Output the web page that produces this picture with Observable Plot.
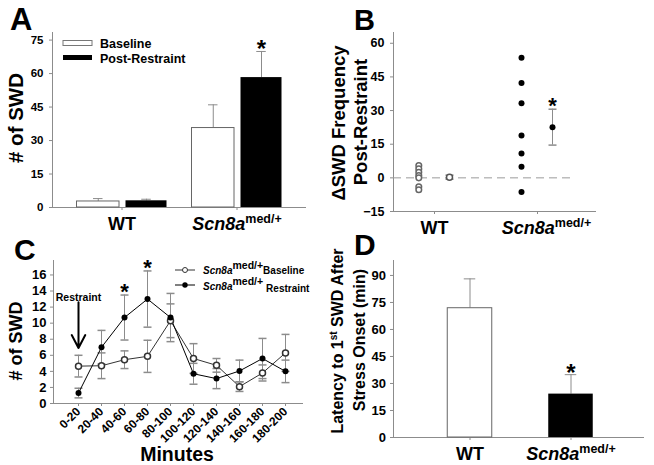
<!DOCTYPE html>
<html>
<head>
<meta charset="utf-8">
<script src="https://cdn.jsdelivr.net/npm/d3@7"></script>
<script src="https://cdn.jsdelivr.net/npm/@observablehq/plot@0.6"></script>
<style>
html,body{margin:0;padding:0;background:#fff;}
#wrap{position:relative;width:654px;height:465px;overflow:hidden;background:#fff;}
#wrap svg{position:absolute;left:0;top:0;}
</style>
</head>
<body>
<div id="wrap">
<svg id="ov" width="654" height="465" font-family="Liberation Sans, Arial, sans-serif" font-weight="bold" fill="black">
  <text x="10" y="29.5" font-size="31">A</text>
  <text x="354" y="30" font-size="29">B</text>
  <text x="14" y="260" font-size="30">C</text>
  <text x="354" y="255" font-size="30">D</text>
  <text transform="translate(22.5,118) rotate(-90)" text-anchor="middle" font-size="20.5"># of SWD</text>
  <text transform="translate(21.5,341) rotate(-90)" text-anchor="middle" font-size="18"># of SWD</text>
  <text transform="translate(344.5,123) rotate(-90)" text-anchor="middle" font-size="18.5">ΔSWD Frequency</text>
  <text transform="translate(366.5,122) rotate(-90)" text-anchor="middle" font-size="18.5">Post-Restraint</text>
  <text transform="translate(343,341) rotate(-90)" text-anchor="middle" font-size="16">Latency to 1<tspan font-size="10" dy="-6">st</tspan><tspan dy="6"> SWD After</tspan></text>
  <text transform="translate(365,340) rotate(-90)" text-anchor="middle" font-size="16">Stress Onset (min)</text>
  <text x="177" y="461" text-anchor="middle" font-size="19.5">Minutes</text>
  <rect x="63" y="40.5" width="29" height="5" fill="white" stroke="#777"></rect>
  <rect x="63" y="55" width="29" height="5" fill="black"></rect>
  <text x="100" y="47.7" font-size="12.5">Baseline</text>
  <text x="100" y="63.3" font-size="12.5">Post-Restraint</text>
  <line x1="175" x2="195" y1="270" y2="270" stroke="#333"></line>
  <circle cx="185" cy="270" r="2.5" fill="white" stroke="#333"></circle>
  <line x1="175" x2="195" y1="285" y2="285" stroke="#000"></line>
  <circle cx="185" cy="285" r="2.7" fill="black"></circle>
  <text x="203" y="274.3" font-size="10"><tspan font-style="italic">Scn8a</tspan><tspan font-size="10.5" dy="-5">med/+</tspan><tspan dy="5">Baseline</tspan></text>
  <text x="203" y="290" font-size="10"><tspan font-style="italic">Scn8a</tspan><tspan font-size="10.5" dy="-5">med/+</tspan><tspan dy="6.5" dx="3">Restraint</tspan></text>
</svg>
</div>
<script>
// ---------- Panel A: # of SWD, baseline vs post-restraint ----------
const groupsA = ["WT", "Scn8a"];
const baselineA = [2.7, 35.6];
const baselineErrA = [1.3, 10.4];
const postA = [3.0, 58.2];
const postErrA = [0.7, 11.7];
const sigA = ["Scn8a"];
const yTicksA = [0, 15, 30, 45, 60, 75];

// ---------- Panel B: delta SWD frequency ----------
const groupsB = ["WT", "Scn8a"];
const wtDeltaB = [5.5, 4.0, 2.5, 1.0, 0.0, -4.0, -5.3];
const scnDeltaB = [53.5, 42.3, 33.3, 18.9, 10.9, 4.9, -6.3];
const meanB = [0.3, 22.6];
const semB = [0.9, 8.0];
const sigB = ["Scn8a"];
const yTicksB = [-15, 0, 15, 30, 45, 60];

// ---------- Panel C: time course ----------
const binsC = ["0-20", "20-40", "40-60", "60-80", "80-100", "100-120", "120-140", "140-160", "160-180", "180-200"];
const baselineC = [4.65, 4.7, 5.45, 5.87, 10.3, 5.6, 4.75, 2.1, 3.8, 6.3];
const baselineErrC = [1.35, 1.6, 1.1, 2.0, 2.1, 1.85, 0.85, 0.6, 1.0, 2.3];
const restraintC = [1.3, 7.0, 10.7, 13.0, 10.7, 3.7, 3.1, 4.05, 5.6, 4.0];
const restraintErrC = [0.6, 2.1, 2.8, 3.5, 3.0, 1.3, 1.25, 1.35, 2.5, 1.4];
const sigC = ["40-60", "60-80"];
const yTicksC = [0, 2, 4, 6, 8, 10, 12, 14, 16];
const restraintNote = [{bin: "0-20", top: 12.6, tip: 6.9, label: 13.2, text: "Restraint"}];

// ---------- Panel D: latency ----------
const groupsD = ["WT", "Scn8a"];
const latencyD = [71.8, 24.1];
const latencyErrD = [16.3, 10.8];
const sigD = ["Scn8a"];
const yTicksD = [0, 15, 30, 45, 60, 75, 90];

const W = 654, H = 465;
const GRAY = "#8c8c8c";
const baseStyle = {background: "transparent", fontFamily: "Liberation Sans, Arial, sans-serif", fontWeight: "bold", overflow: "visible"};
const wrap = document.getElementById("wrap");

// horizontal error-bar cap drawn as a custom dot symbol (half-width = r)
const capSymbol = {draw(ctx, size) { const w = Math.sqrt(size / Math.PI); ctx.moveTo(-w, 0); ctx.lineTo(w, 0); }};

function fixScn(svg, supSize, shift) {
  d3.select(svg).selectAll("text").each(function () {
    if (this.textContent === "Scn8a") {
      const t = d3.select(this);
      t.text(null);
      const a = t.append("tspan").attr("font-style", "italic").text("Scn8a");
      if (shift) a.attr("dx", shift);
      t.append("tspan").attr("font-size", supSize + "px").attr("font-style", "normal").attr("dy", "-0.55em").text("med/+");
    }
  });
}
function astDy(fs, gap) { return -gap + (0.555 - 0.32) * fs; }

// Panel A
const rowsA = groupsA.map((g, i) => ({g, base: baselineA[i], baseErr: baselineErrA[i], post: postA[i], postErr: postErrA[i]}));
const plotA = Plot.plot({
  width: W, height: H, marginLeft: 52, marginRight: 349, marginTop: 32, marginBottom: 258,
  style: baseStyle,
  x: {type: "band", domain: groupsA, range: [63.25, 294.25], padding: 0},
  y: {domain: [0, 78.4]},
  marks: [
    Plot.frame({anchor: "left", stroke: GRAY}),
    Plot.frame({anchor: "bottom", stroke: GRAY}),
    Plot.axisY({ticks: yTicksA, tickSize: 3, tickPadding: 6, stroke: GRAY, fontSize: 11.5, fontWeight: "bold", label: null}),
    Plot.axisX({tickSize: 3, tickPadding: 7, stroke: GRAY, fontSize: 18, fontWeight: "bold", label: null}),
    Plot.ruleX(rowsA, {x: "g", y1: "base", y2: d => d.base + d.baseErr, dx: -23.75, stroke: GRAY}),
    Plot.tickY(rowsA, {x: "g", y: d => d.base + d.baseErr, dx: -23.75, insetLeft: 52.75, insetRight: 52.75, stroke: GRAY}),
    Plot.ruleX(rowsA, {x: "g", y1: "post", y2: d => d.post + d.postErr, dx: 24.5, stroke: GRAY}),
    Plot.tickY(rowsA, {x: "g", y: d => d.post + d.postErr, dx: 24.5, insetLeft: 52.75, insetRight: 52.75, stroke: GRAY}),
    Plot.barY(rowsA, {x: "g", y: "base", fill: "white", stroke: "#666", insetLeft: 12.5, insetRight: 60}),
    Plot.barY(rowsA, {x: "g", y: "post", fill: "black", insetLeft: 61.5, insetRight: 12.5}),
    Plot.text(rowsA.filter(d => sigA.includes(d.g)), {x: "g", y: d => d.post + d.postErr, text: () => "*", dx: 24.5, dy: astDy(24, 8), fontSize: 24, fontWeight: "bold"})
  ]
});
fixScn(plotA, 12.5, 0);
wrap.appendChild(plotA);

// Panel B
const rowsB = groupsB.map((g, i) => ({g, m: meanB[i], s: semB[i]}));
const plotB = Plot.plot({
  width: W, height: H, marginLeft: 393, marginRight: 59, marginTop: 32, marginBottom: 254,
  style: baseStyle,
  x: {type: "point", domain: groupsB, range: [434, 537], padding: 0},
  y: {domain: [-15, 64.8]},
  marks: [
    Plot.frame({anchor: "left", stroke: GRAY}),
    Plot.frame({anchor: "bottom", stroke: GRAY}),
    Plot.axisY({ticks: yTicksB, tickSize: 3, tickPadding: 6, stroke: GRAY, fontSize: 12.5, fontWeight: "bold", label: null}),
    Plot.axisX({tickSize: 3, tickPadding: 7, stroke: GRAY, fontSize: 18, fontWeight: "bold", label: null}),
    Plot.ruleY([0], {stroke: "#9a9a9a", strokeDasharray: "8,5", insetRight: 22}),
    Plot.dot(wtDeltaB, {x: () => "WT", y: d => d, dx: -15.7, r: 2.8, fill: "white", stroke: "#666"}),
    Plot.dot(scnDeltaB, {x: () => "Scn8a", y: d => d, dx: -16, r: 3, fill: "black"}),
    Plot.ruleX(rowsB, {x: "g", y1: d => d.m - d.s, y2: d => d.m + d.s, dx: 15, stroke: GRAY}),
    Plot.dot(rowsB, {x: "g", y: d => d.m - d.s, dx: 15, symbol: capSymbol, r: 4, fill: "none", stroke: GRAY}),
    Plot.dot(rowsB, {x: "g", y: d => d.m + d.s, dx: 15, symbol: capSymbol, r: 4, fill: "none", stroke: GRAY}),
    Plot.dot(rowsB.filter(d => d.g === "WT"), {x: "g", y: "m", dx: 15, r: 3, fill: "white", stroke: "#555"}),
    Plot.dot(rowsB.filter(d => d.g !== "WT"), {x: "g", y: "m", dx: 15, r: 3, fill: "black"}),
    Plot.text(rowsB.filter(d => sigB.includes(d.g)), {x: "g", y: d => d.m + d.s, text: () => "*", dx: 15, dy: astDy(22, 8.5), fontSize: 22, fontWeight: "bold"})
  ]
});
fixScn(plotB, 12.5, 9);
wrap.appendChild(plotB);

// Panel C
const rowsC = binsC.map((b, i) => ({b, base: baselineC[i], be: baselineErrC[i], rest: restraintC[i], re: restraintErrC[i]}));
const capOpts = {symbol: capSymbol, r: 4, fill: "none", stroke: GRAY};
const plotC = Plot.plot({
  width: W, height: H, marginLeft: 53, marginRight: 352, marginTop: 260, marginBottom: 62,
  style: baseStyle,
  x: {type: "point", domain: binsC, range: [76.7, 286.7], padding: 0},
  y: {domain: [0, 17.8]},
  marks: [
    Plot.frame({anchor: "left", stroke: GRAY}),
    Plot.frame({anchor: "bottom", stroke: GRAY}),
    Plot.axisY({ticks: yTicksC, tickSize: 3, tickPadding: 4, stroke: GRAY, fontSize: 13, fontWeight: "bold", label: null}),
    Plot.axisX({tickSize: 3, tickPadding: 3, tickRotate: -45, stroke: GRAY, fontSize: 12, fontWeight: "bold", label: null}),
    Plot.ruleX(rowsC, {x: "b", y1: d => d.base - d.be, y2: d => d.base + d.be, stroke: GRAY}),
    Plot.dot(rowsC, {x: "b", y: d => d.base - d.be, ...capOpts}),
    Plot.dot(rowsC, {x: "b", y: d => d.base + d.be, ...capOpts}),
    Plot.ruleX(rowsC, {x: "b", y1: d => d.rest - d.re, y2: d => d.rest + d.re, stroke: GRAY}),
    Plot.dot(rowsC, {x: "b", y: d => d.rest - d.re, ...capOpts}),
    Plot.dot(rowsC, {x: "b", y: d => d.rest + d.re, ...capOpts}),
    Plot.line(rowsC, {x: "b", y: "base", stroke: "#333", strokeWidth: 1}),
    Plot.line(rowsC, {x: "b", y: "rest", stroke: "#000", strokeWidth: 1}),
    Plot.dot(rowsC, {x: "b", y: "base", r: 3, fill: "white", stroke: "#333"}),
    Plot.dot(rowsC, {x: "b", y: "rest", r: 3, fill: "black"}),
    Plot.text(rowsC.filter(d => sigC.includes(d.b)), {x: "b", y: d => d.rest + d.re, text: () => "*", dy: astDy(22, 8), fontSize: 22, fontWeight: "bold"}),
    Plot.arrow(restraintNote, {x1: "bin", x2: "bin", y1: "top", y2: "tip", stroke: "black", strokeWidth: 2, headLength: 11, headAngle: 55}),
    Plot.text(restraintNote, {x: "bin", y: "label", text: "text", fontSize: 10.5, fontWeight: "bold"})
  ]
});
wrap.appendChild(plotC);

// Panel D
const rowsD = groupsD.map((g, i) => ({g, v: latencyD[i], e: latencyErrD[i]}));
const plotD = Plot.plot({
  width: W, height: H, marginLeft: 393, marginRight: 11, marginTop: 260, marginBottom: 28,
  style: baseStyle,
  x: {type: "band", domain: groupsD, range: [418.25, 621.25], padding: 0},
  y: {domain: [0, 98.3]},
  marks: [
    Plot.frame({anchor: "left", stroke: GRAY}),
    Plot.frame({anchor: "bottom", stroke: GRAY}),
    Plot.axisY({ticks: yTicksD, tickSize: 3, tickPadding: 4.5, stroke: GRAY, fontSize: 13, fontWeight: "bold", label: null}),
    Plot.axisX({tickSize: 3, tickPadding: 7, stroke: GRAY, fontSize: 18, fontWeight: "bold", label: null}),
    Plot.ruleX(rowsD, {x: "g", y1: "v", y2: d => d.v + d.e, stroke: GRAY}),
    Plot.tickY(rowsD, {x: "g", y: d => d.v + d.e, insetLeft: 44.75, insetRight: 44.75, stroke: GRAY}),
    Plot.barY(rowsD.filter(d => d.g === "WT"), {x: "g", y: "v", fill: "white", stroke: "#666", insetLeft: 28.25, insetRight: 28.25}),
    Plot.barY(rowsD.filter(d => d.g !== "WT"), {x: "g", y: "v", fill: "black", insetLeft: 28.25, insetRight: 28.25}),
    Plot.text(rowsD.filter(d => sigD.includes(d.g)), {x: "g", y: d => d.v + d.e, text: () => "*", dy: astDy(24, 7), fontSize: 24, fontWeight: "bold"})
  ]
});
fixScn(plotD, 12.5, 0);
wrap.appendChild(plotD);
</script>
</body>
</html>
